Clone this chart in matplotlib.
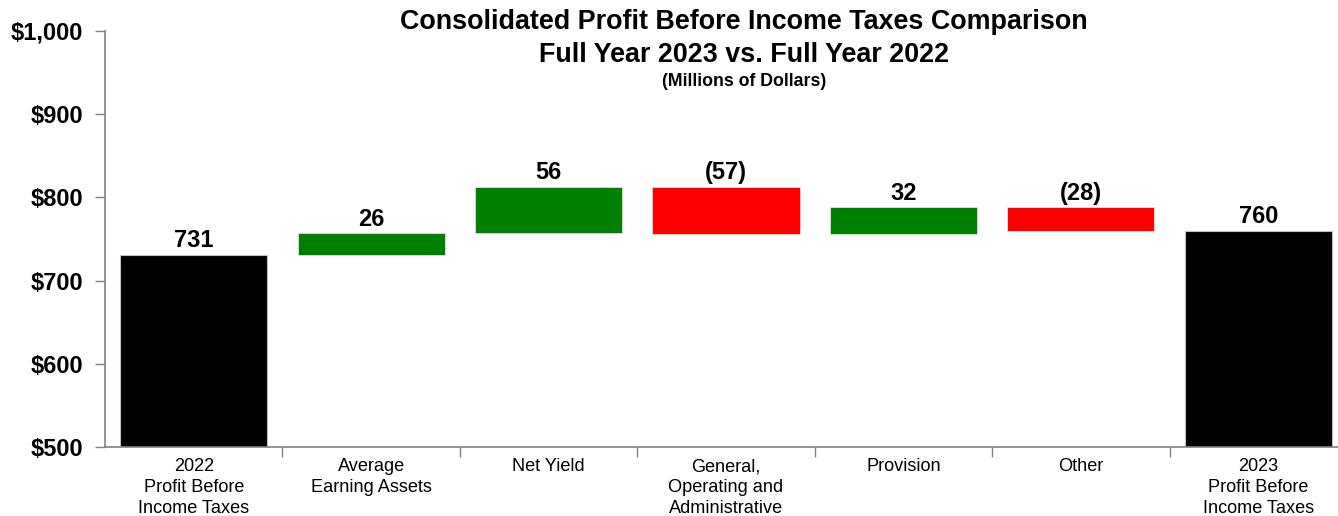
import matplotlib
matplotlib.use("Agg")
import matplotlib.pyplot as plt
from matplotlib import font_manager

# Data
categories = [
    "2022\nProfit Before\nIncome Taxes",
    "Average\nEarning Assets",
    "Net Yield",
    "General,\nOperating and\nAdministrative",
    "Provision",
    "Other",
    "2023\nProfit Before\nIncome Taxes",
]
start_total = 731
changes = [26, 56, -57, 32, -28]
end_total = 760
yticks = [500, 600, 700, 800, 900, 1000]

names = {f.name for f in font_manager.fontManager.ttflist}
narrow = "Liberation Sans Narrow" if "Liberation Sans Narrow" in names else "Liberation Sans"
plt.rcParams["font.family"] = [narrow, "DejaVu Sans"]

GREEN = "#008000"
RED = "#ff0000"

fig = plt.figure(figsize=(13.38, 5.16), dpi=100)
ax = fig.add_axes([105 / 1338, 1 - 447 / 516, 1242 / 1338, 416 / 516])

n = len(categories)
x = list(range(n))
width = 0.83
ymin = yticks[0]

# totals
for i, val in [(0, start_total), (n - 1, end_total)]:
    ax.bar(i, val - ymin, bottom=ymin, width=width, color="black", edgecolor="#bfbfbf", linewidth=0.8)
    ax.text(i, val + 3, f"{val:,}", ha="center", va="bottom", fontsize=17, fontweight="bold", family="Liberation Sans")

# changes
level = start_total
for k, d in enumerate(changes):
    i = k + 1
    lo, hi = (level, level + d) if d >= 0 else (level + d, level)
    col = GREEN if d >= 0 else RED
    ax.bar(i, hi - lo, bottom=lo, width=width, color=col, edgecolor="#e0e0e0", linewidth=0.6)
    lab = f"{d}" if d >= 0 else f"({-d})"
    ax.text(i, hi + 3, lab, ha="center", va="bottom", fontsize=17, fontweight="bold", family="Liberation Sans")
    level += d

ax.set_xlim(-0.5, n - 0.5)
ax.set_ylim(yticks[0], yticks[-1])
ax.set_yticks(yticks)
ax.set_yticklabels([f"${v:,}" for v in yticks], fontsize=17, fontweight="bold", family="Liberation Sans")
ax.tick_params(axis="y", length=7, width=1, color="#808080", pad=9)

# category boundary ticks on x axis
ax.set_xticks([i + 0.5 for i in range(n - 1)])
ax.set_xticklabels([])
ax.set_xticks(x, minor=True)
ax.set_xticklabels(categories, minor=True, fontsize=13.1, linespacing=1.32)
ax.tick_params(axis="x", which="major", length=7, width=1, color="#808080", direction="out")
ax.tick_params(axis="x", which="minor", length=0, pad=8)

for s in ["top", "right"]:
    ax.spines[s].set_visible(False)
for s in ["left", "bottom"]:
    ax.spines[s].set_color("#808080")
    ax.spines[s].set_linewidth(1.2)

fig.text(744 / 1338, 1 - 22 / 516, "Consolidated Profit Before Income Taxes Comparison",
         ha="center", va="center", fontsize=19.4, fontweight="bold")
fig.text(744 / 1338, 1 - 55 / 516, "Full Year 2023 vs. Full Year 2022",
         ha="center", va="center", fontsize=19.4, fontweight="bold")
fig.text(744 / 1338, 1 - 81 / 516, "(Millions of Dollars)",
         ha="center", va="center", fontsize=12.8, fontweight="bold")

fig.savefig("out.png", dpi=100)
